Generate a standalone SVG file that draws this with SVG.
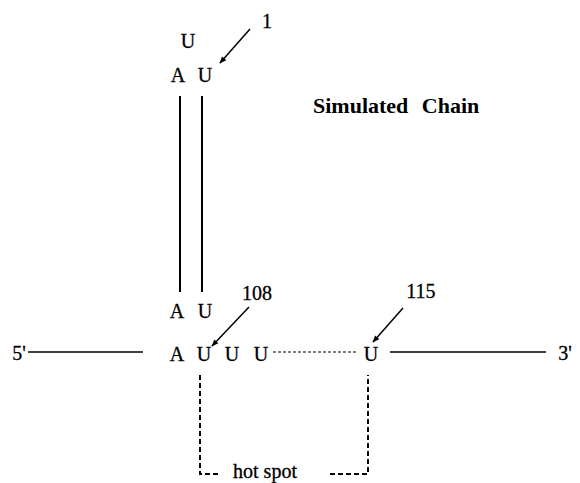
<svg xmlns="http://www.w3.org/2000/svg" width="580" height="483" viewBox="0 0 580 483">
  <style>
    .t { font-family: "Liberation Serif", "DejaVu Serif", serif; font-size: 20px; fill: #000; stroke: #000; stroke-width: 0.3; text-anchor: middle; }
    .title { font-family: "Liberation Serif", "DejaVu Serif", serif; font-size: 22px; font-weight: bold; fill: #000; }
    .solid { stroke: #000; stroke-width: 1.5; fill: none; }
    .stem { stroke: #000; stroke-width: 2; fill: none; }
    .dots { stroke: #000; stroke-width: 1; stroke-dasharray: 3 2; fill: none; }
    .dash { stroke: #000; stroke-width: 2; stroke-dasharray: 5 3; fill: none; }
    .ptr { stroke: #000; stroke-width: 1.5; fill: none; marker-end: url(#head); }
  </style>
  <defs>
    <marker id="head" viewBox="0 0 10 10" refX="9" refY="5" markerWidth="8" markerHeight="7" markerUnits="userSpaceOnUse" orient="auto">
      <path d="M0,1 L10,5 L0,9 Z" fill="#000"/>
    </marker>
  </defs>
  <rect width="580" height="483" fill="#fff"/>

  <g id="connectors">
    <!-- base-pair stems -->
    <line class="stem" x1="180" y1="96" x2="180" y2="292"/>
    <line class="stem" x1="202" y1="96" x2="202" y2="292"/>
    <!-- backbone -->
    <line class="solid" x1="28" y1="352" x2="143" y2="352"/>
    <line class="dots" x1="273" y1="352" x2="358" y2="352"/>
    <line class="solid" x1="390" y1="352" x2="546" y2="352"/>
    <!-- hot spot bracket -->
    <polyline class="dash" points="200,375 200,474 218,474"/>
    <polyline class="dash" points="330,474 368,474 368,375"/>
    <!-- position pointers -->
    <line class="ptr" x1="250" y1="29" x2="220" y2="63"/>
    <line class="ptr" x1="249" y1="307" x2="212" y2="346"/>
    <line class="ptr" x1="403" y1="308" x2="373" y2="342"/>
  </g>

  <g id="loop-top">
    <text class="t" x="188" y="48">U</text>
  </g>
  <g id="pair-top">
    <text class="t" x="178" y="82">A</text>
    <text class="t" x="205" y="82">U</text>
  </g>
  <g id="pair-bottom">
    <text class="t" x="177" y="318">A</text>
    <text class="t" x="205" y="318">U</text>
  </g>
  <g id="strand">
    <text class="t" x="177" y="361">A</text>
    <text class="t" x="204" y="361">U</text>
    <text class="t" x="232" y="361">U</text>
    <text class="t" x="261" y="361">U</text>
    <text class="t" x="371" y="361">U</text>
  </g>
  <g id="ends">
    <text class="t" x="19" y="360">5'</text>
    <text class="t" x="565" y="360">3'</text>
  </g>
  <g id="positions">
    <text class="t" x="267" y="28">1</text>
    <text class="t" x="257" y="300">108</text>
    <text class="t" x="421" y="298">115</text>
  </g>
  <g id="hot-spot">
    <text class="t" x="265" y="478">hot spot</text>
  </g>
  <g id="title">
    <text class="title" x="313" y="113" word-spacing="8">Simulated Chain</text>
  </g>
</svg>
